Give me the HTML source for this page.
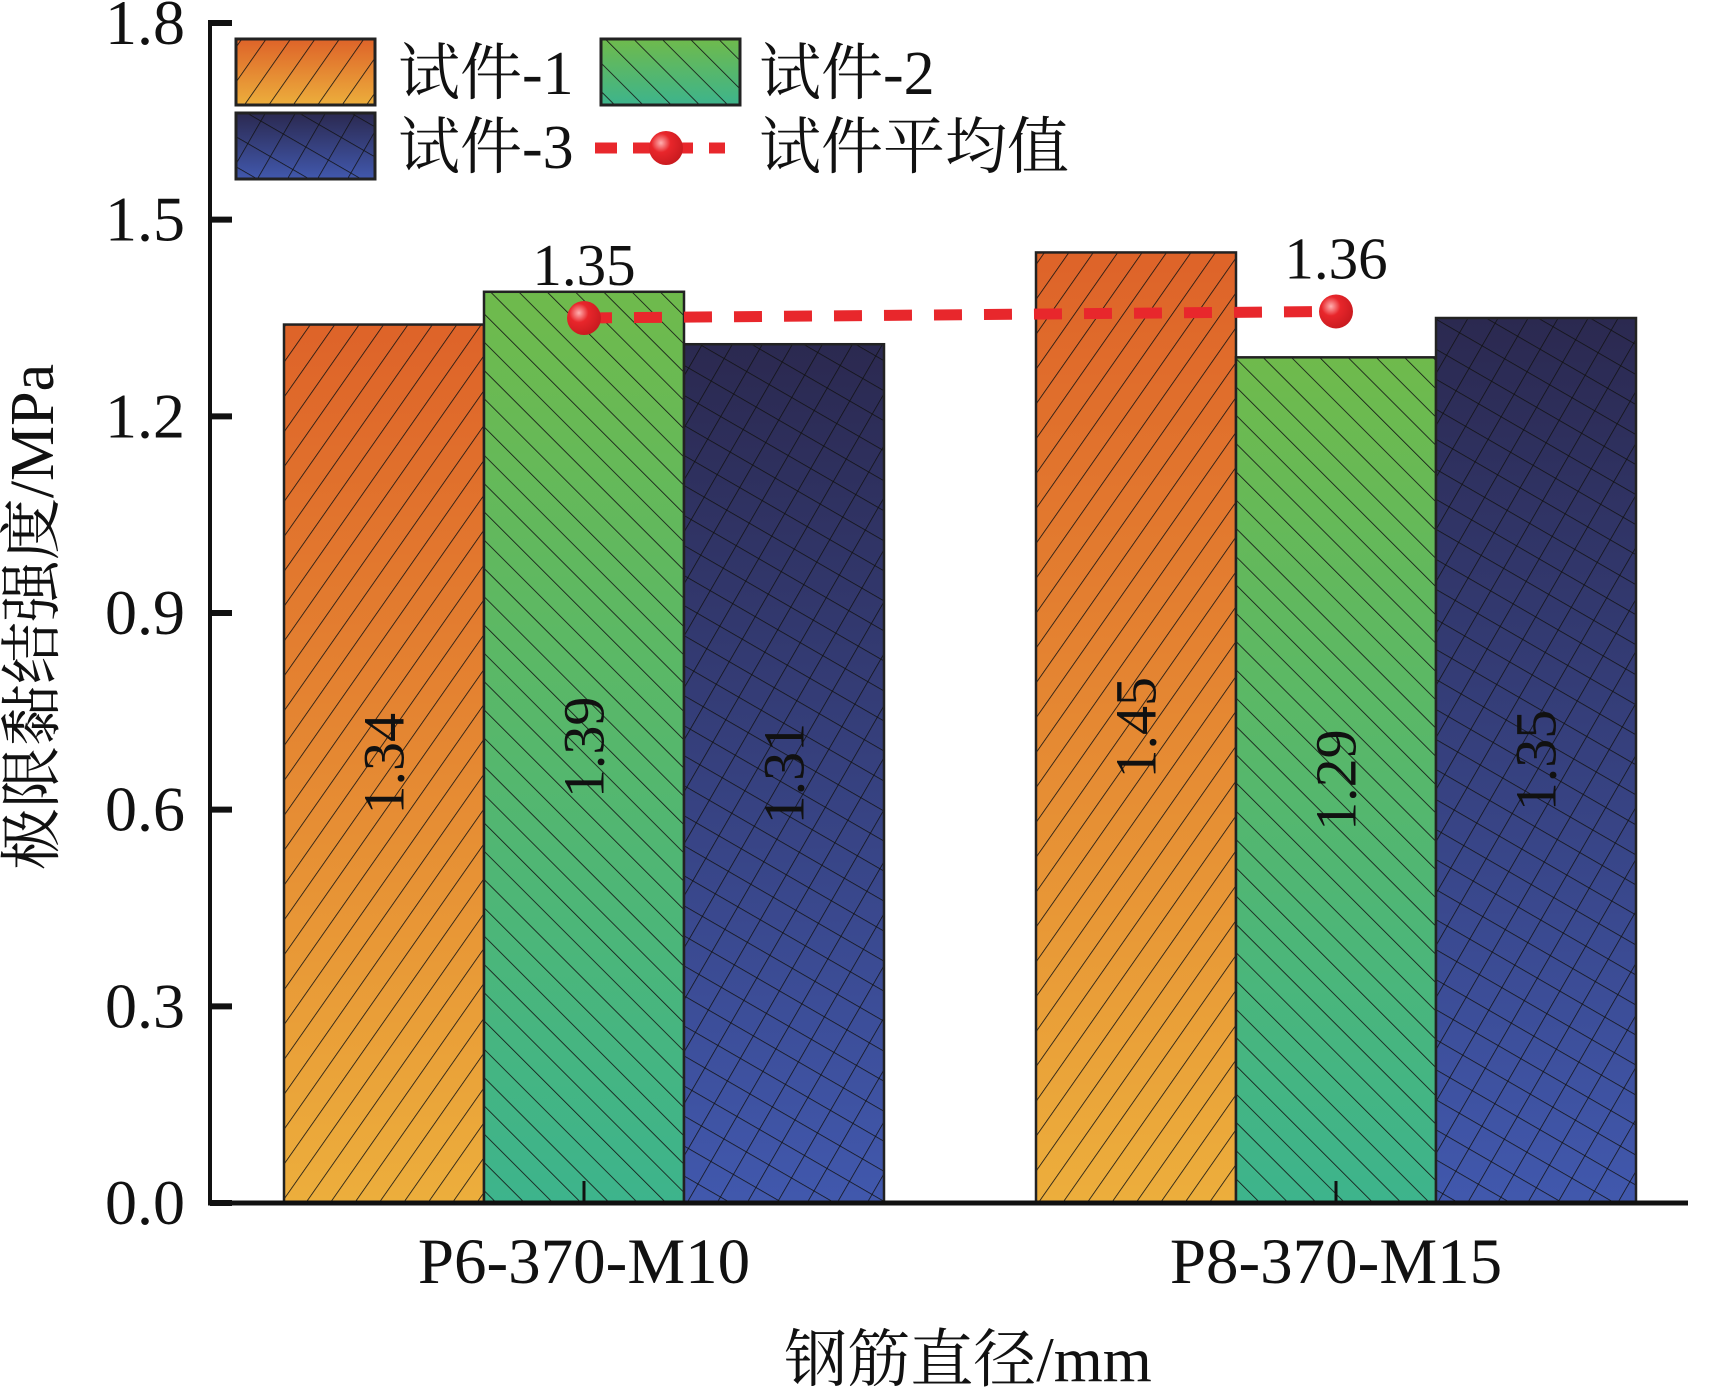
<!DOCTYPE html>
<html><head><meta charset="utf-8"><style>
html,body{margin:0;padding:0;background:#fff}
svg{display:block}
text{font-family:"Liberation Serif","Noto Serif CJK SC","Noto Sans CJK SC",serif;fill:#111}
</style></head><body>
<svg id="chart" width="1724" height="1388" viewBox="0 0 1724 1388" xmlns="http://www.w3.org/2000/svg">
<defs>
<linearGradient id="g1" x1="0" y1="0" x2="0" y2="1"><stop offset="0" stop-color="#de6329"/><stop offset="1" stop-color="#ecae3c"/></linearGradient>
<linearGradient id="g2" x1="0" y1="0" x2="0" y2="1"><stop offset="0" stop-color="#6fba4c"/><stop offset="1" stop-color="#3db48c"/></linearGradient>
<linearGradient id="g3" x1="0" y1="0" x2="0" y2="1"><stop offset="0" stop-color="#2b2950"/><stop offset="1" stop-color="#4158ad"/></linearGradient>
<pattern id="h1" width="20" height="20" patternUnits="userSpaceOnUse" patternTransform="rotate(35)"><line x1="0" y1="0" x2="0" y2="20" stroke="#111" stroke-width="1.6"/></pattern>
<pattern id="h2" width="20" height="20" patternUnits="userSpaceOnUse" patternTransform="rotate(-45)"><line x1="0" y1="0" x2="0" y2="20" stroke="#111" stroke-width="1.6"/></pattern>
<pattern id="h3" width="26" height="26" patternUnits="userSpaceOnUse" patternTransform="rotate(30)"><line x1="0" y1="0" x2="0" y2="26" stroke="#111" stroke-width="1.5"/><line x1="0" y1="0" x2="26" y2="0" stroke="#111" stroke-width="1.5"/></pattern>
<radialGradient id="dot" cx="0.35" cy="0.35" r="0.7"><stop offset="0" stop-color="#ffb0b0"/><stop offset="0.4" stop-color="#e8262b"/><stop offset="1" stop-color="#c81a1f"/></radialGradient>
</defs>
<g id="bars"></g>
<g id="avg"></g>
<g id="axes"></g>
<g id="legend"></g>
</svg>
<script>
const categories = ["P6-370-M10", "P8-370-M15"];
const series1 = [1.34, 1.45];
const series2 = [1.39, 1.29];
const series3 = [1.31, 1.35];
const averages = [1.35, 1.36];
const yTicks = [0, 0.3, 0.6, 0.9, 1.2, 1.5, 1.8];
const yTickLabels = ["0.0", "0.3", "0.6", "0.9", "1.2", "1.5", "1.8"];

const NS = "http://www.w3.org/2000/svg";
const y0 = 1203, yTop = 23, yMax = 1.8;
const axX = 210, axRight = 1688;
const catCenters = [584, 1336];
const barW = 200;
function yScale(v){ return y0 - (v / yMax) * (y0 - yTop); }
function xCat(i){ return catCenters[i]; }
function mk(tag, attrs, parent){ const e = document.createElementNS(NS, tag); for (const k in attrs) e.setAttribute(k, attrs[k]); parent.appendChild(e); return e; }

const barsG = document.getElementById('bars');
const allSeries = [series1, series2, series3];
const fills = ['url(#g1)', 'url(#g2)', 'url(#g3)'];
const hatches = ['url(#h1)', 'url(#h2)', 'url(#h3)'];
allSeries.forEach((s, si) => {
  s.forEach((v, ci) => {
    const x = xCat(ci) + (si - 1) * barW - barW / 2;
    const y = yScale(v), h = y0 - y;
    const r = mk('rect', {x: x, y: y, width: barW, height: h, fill: fills[si]}, barsG);
    
    
    const hr = mk('rect', {x: x, y: y, width: barW, height: h, fill: hatches[si], stroke: '#222', 'stroke-width': 2.5}, barsG);
    
    
    const cx = x + barW / 2, cy = y + h / 2;
    const t = mk('text', {x: cx, y: cy, 'font-size': 58, 'text-anchor': 'middle', 'dominant-baseline': 'central', transform: 'rotate(-90 ' + cx + ' ' + cy + ')'}, barsG);
    t.textContent = v.toFixed(2);
    
    
  });
});

const avgG = document.getElementById('avg');
const p0 = {x: xCat(0), y: yScale(averages[0])}, p1 = {x: xCat(1), y: yScale(averages[1])};
const ln = mk('line', {x1: p0.x, y1: p0.y, x2: p1.x, y2: p1.y, stroke: '#e8272c', 'stroke-width': 11, 'stroke-dasharray': '28 22'}, avgG);


averages.forEach((v, i) => {
  const c = mk('circle', {cx: xCat(i), cy: yScale(v), r: 17, fill: 'url(#dot)'}, avgG);
  
  
  const t = mk('text', {x: xCat(i), y: yScale(v) - 33, 'font-size': 59, 'text-anchor': 'middle'}, avgG);
  t.textContent = v.toFixed(2);
  
  
});

const axG = document.getElementById('axes');
const ya = mk('line', {x1: axX, y1: 20, x2: axX, y2: y0 + 2, stroke: '#111', 'stroke-width': 4}, axG);


const xa = mk('line', {x1: axX - 2, y1: y0, x2: axRight, y2: y0, stroke: '#111', 'stroke-width': 5}, axG);


yTicks.forEach((v, i) => {
  const y = yScale(v);
  const tk = mk('line', {x1: axX, y1: y, x2: axX + 22, y2: y, stroke: '#111', 'stroke-width': 6}, axG);
  
  
  const t = mk('text', {x: 185, y: y + 21, 'font-size': 64, 'text-anchor': 'end'}, axG);
  t.textContent = yTickLabels[i];
  
  
});
categories.forEach((c, i) => {
  const tk = mk('line', {x1: xCat(i), y1: y0, x2: xCat(i), y2: y0 - 22, stroke: '#111', 'stroke-width': 3}, axG);
  
  
  const t = mk('text', {x: xCat(i), y: 1283, 'font-size': 65, 'text-anchor': 'middle'}, axG);
  t.textContent = c;
  
  
});
const xt = mk('text', {x: 968, y: 1381, 'font-size': 63, 'text-anchor': 'middle'}, axG);
xt.textContent = '钢筋直径/mm';


const yt = mk('text', {x: 33, y: 617, 'font-size': 62, 'text-anchor': 'middle', 'dominant-baseline': 'central', transform: 'rotate(-90 33 617)'}, axG);
yt.textContent = '极限黏结强度/MPa';



const lg = document.getElementById('legend');
const legendBoxes = [
  {x: 236, y: 39, f: 0, label: '试件-1', tx: 398},
  {x: 601, y: 39, f: 1, label: '试件-2', tx: 759},
  {x: 236, y: 113, f: 2, label: '试件-3', tx: 398}
];
legendBoxes.forEach(b => {
  const r = mk('rect', {x: b.x, y: b.y, width: 139, height: 66, fill: fills[b.f]}, lg);
  
  
  const h = mk('rect', {x: b.x, y: b.y, width: 139, height: 66, fill: hatches[b.f], stroke: '#222', 'stroke-width': 3}, lg);
  
  
  const t = mk('text', {x: b.tx, y: b.y + 55, 'font-size': 62}, lg);
  t.textContent = b.label;
  
  
});
const ll = mk('line', {x1: 595, y1: 148, x2: 725, y2: 148, stroke: '#e8272c', 'stroke-width': 11, 'stroke-dasharray': '22 16'}, lg);


const lc = mk('circle', {cx: 666, cy: 148, r: 17, fill: 'url(#dot)'}, lg);


const lt = mk('text', {x: 759, y: 168, 'font-size': 62}, lg);
lt.textContent = '试件平均值';


</script>
</body></html>
